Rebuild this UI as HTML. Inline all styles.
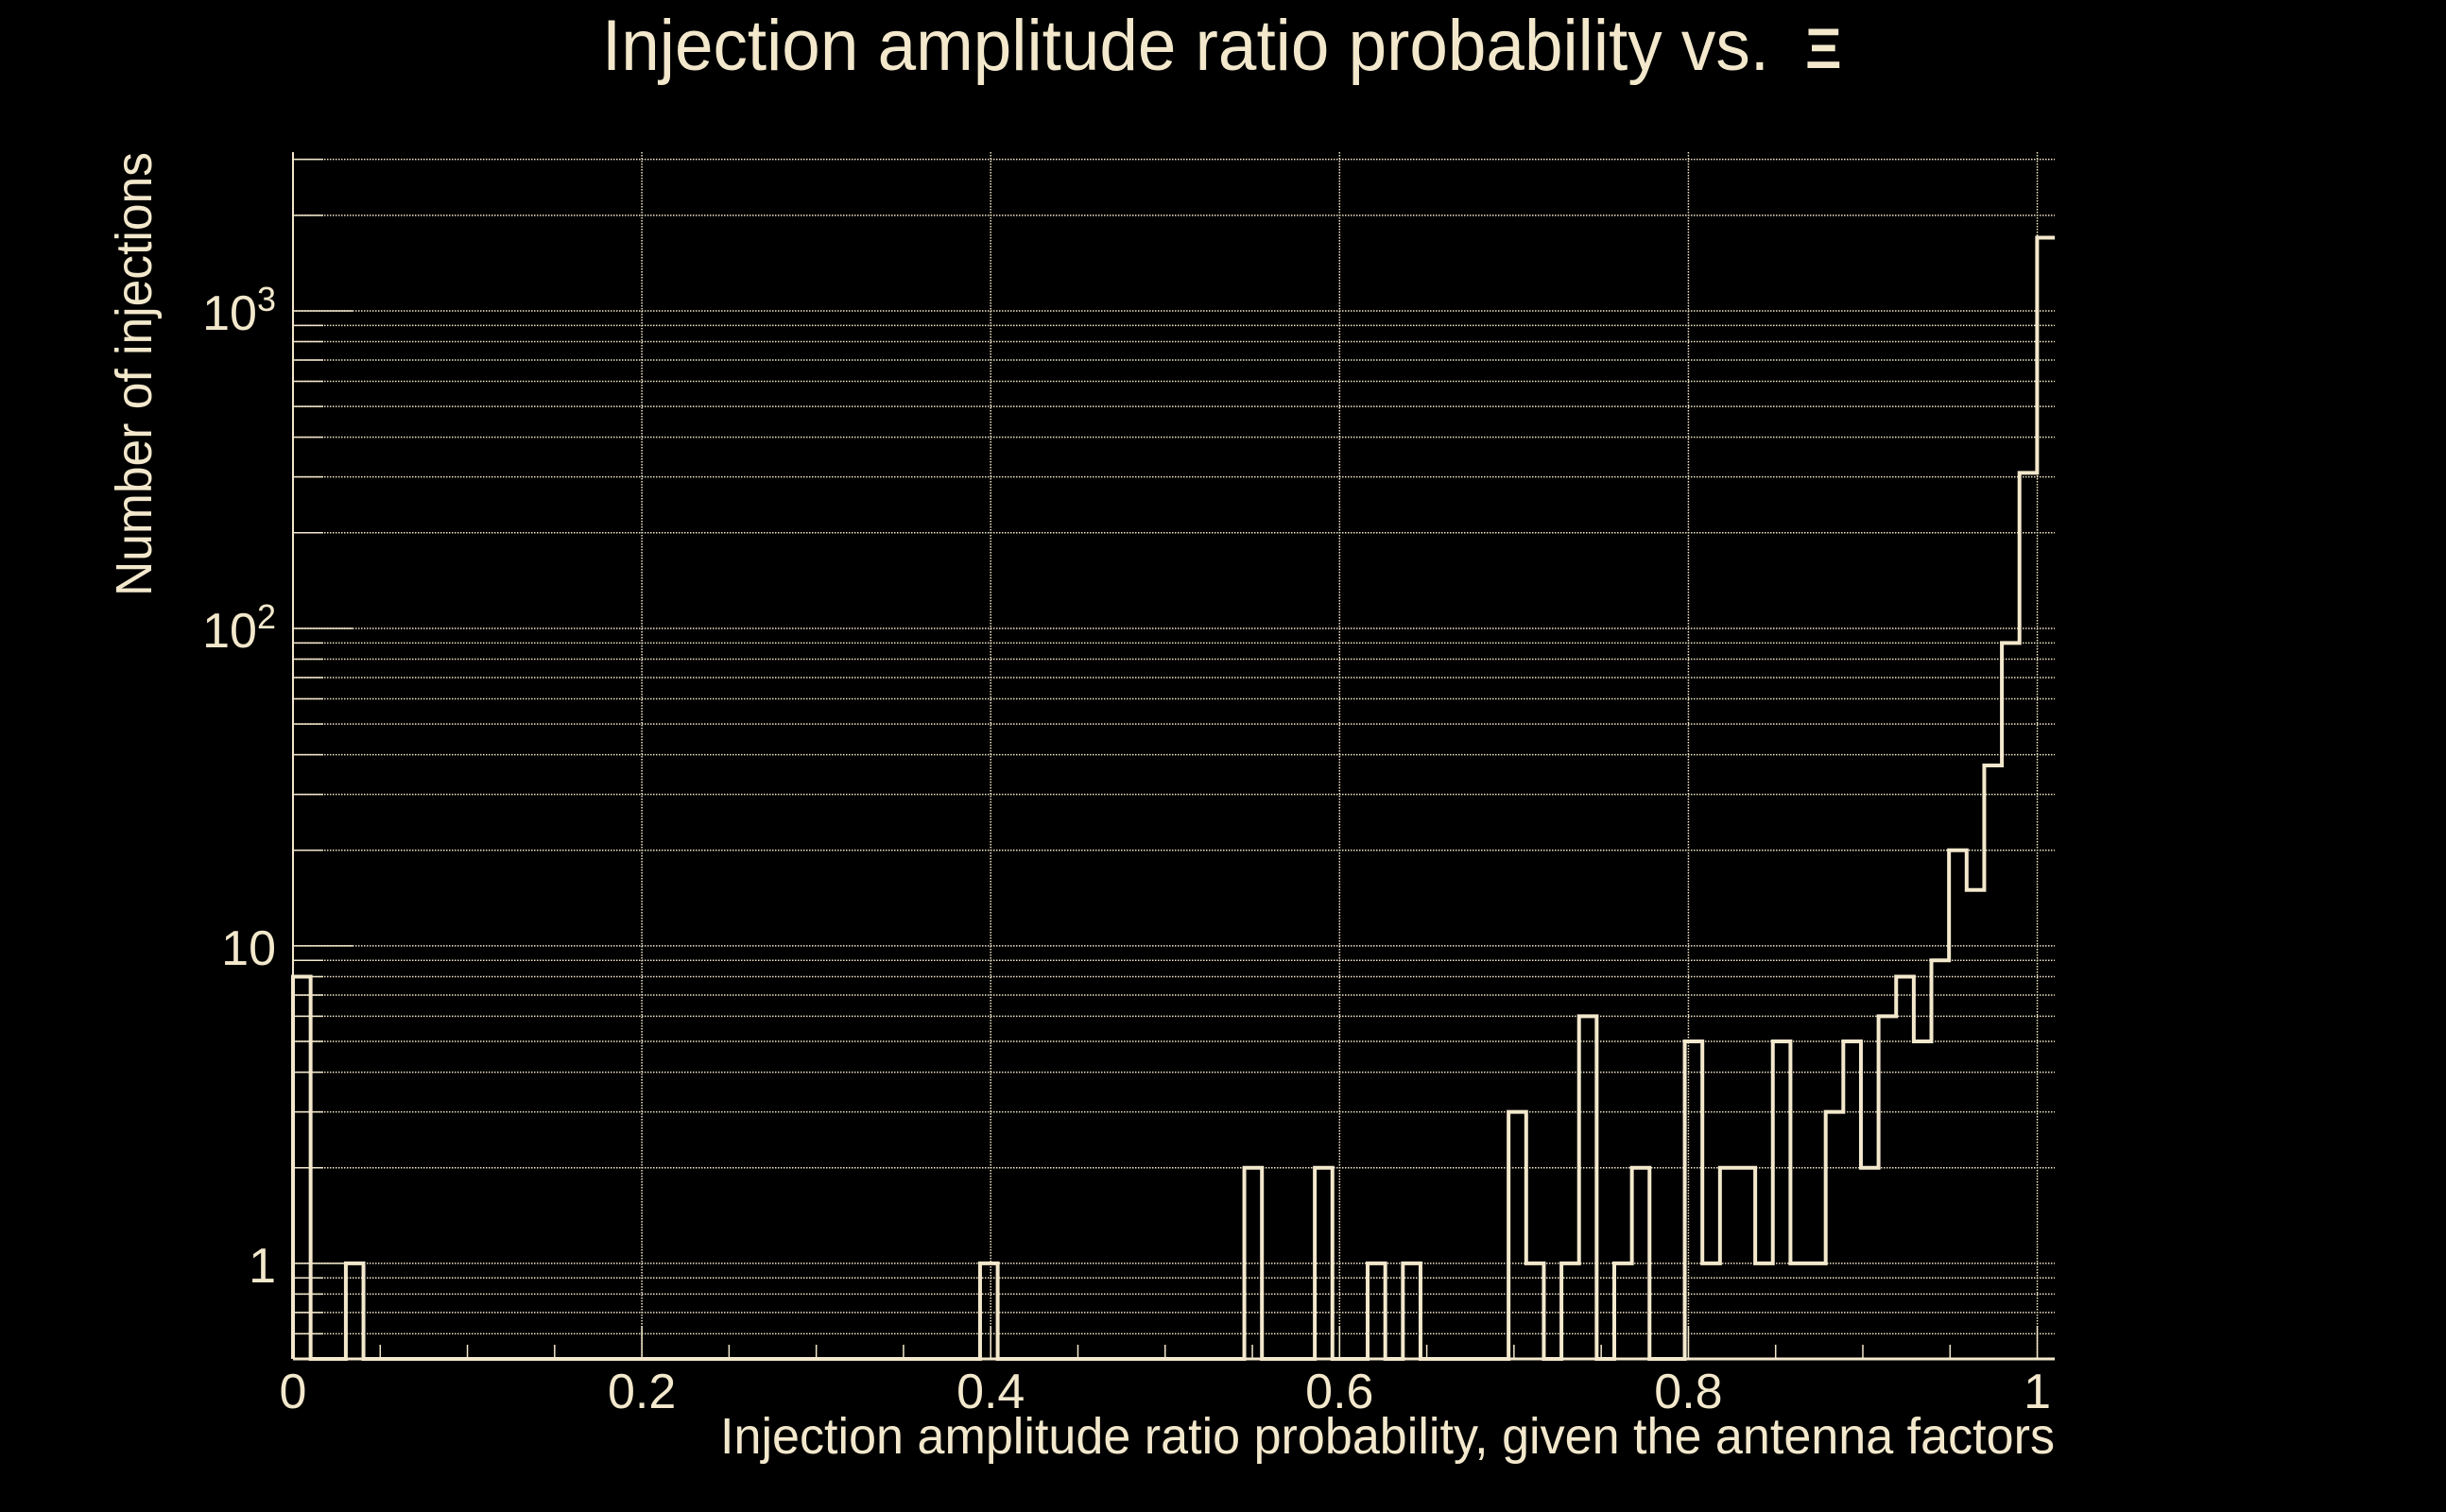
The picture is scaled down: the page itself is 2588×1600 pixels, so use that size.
<!DOCTYPE html>
<html><head><meta charset="utf-8"><style>
html,body{margin:0;padding:0;background:#000;}
svg{display:block;}
text{font-family:"Liberation Sans",sans-serif;fill:#f3e8cc;}
</style></head><body>
<svg id="chart" width="2588" height="1600" viewBox="0 0 2588 1600" xmlns="http://www.w3.org/2000/svg">
<rect width="2588" height="1600" fill="#000"/>
<text x="637" y="74" font-size="76" textLength="1235" lengthAdjust="spacingAndGlyphs">Injection amplitude ratio probability vs.</text>
<text x="1910" y="72" font-size="60" font-weight="bold" font-family="Liberation Serif,serif">Ξ</text>
<text x="2174" y="1538" font-size="54" text-anchor="end" textLength="1412" lengthAdjust="spacingAndGlyphs">Injection amplitude ratio probability, given the antenna factors</text>
<text transform="translate(160,396) rotate(-90)" font-size="54" text-anchor="middle" textLength="470" lengthAdjust="spacingAndGlyphs">Number of injections</text>
<g id="grid"></g>
<g id="axes"></g>
<g id="marks"></g>
</svg>
<script>
const binWidth = 0.0101;
const counts = [8,0,0,1,0,0,0,0,0,0, 0,0,0,0,0,0,0,0,0,0, 0,0,0,0,0,0,0,0,0,0, 0,0,0,0,0,0,0,0,0,1,
 0,0,0,0,0,0,0,0,0,0, 0,0,0,0,2,0,0,0,2,0, 0,1,0,1,0,0,0,0,0,3,
 1,0,1,6,0,1,2,0,0,5, 1,2,2,1,5,1,1,3,5,2, 6,8,5,9,20,15,37,90,309,1700];
const xTicks = [0,0.2,0.4,0.6,0.8,1];
const xTickLabels = ["0","0.2","0.4","0.6","0.8","1"];
const yMajor = [1,10,100,1000];
const yLabelBase = ["1","10","10","10"];
const yLabelExp = ["","","2","3"];

const C = "#f3e8cc";
const L=310,R=2174,T=161,B=1438;
const xmin=0,xmax=1.01,ymin=0.5,ymax=Math.pow(10,3.5);
const sx=v=>L+(v-xmin)/(xmax-xmin)*(R-L);
const sy=v=>B-(Math.log10(v)-Math.log10(ymin))/(Math.log10(ymax)-Math.log10(ymin))*(B-T);
const NS="http://www.w3.org/2000/svg";
function mk(tag,attrs,parent){const e=document.createElementNS(NS,tag);for(const k in attrs)e.setAttribute(k,attrs[k]);parent.appendChild(e);return e;}
const grid=document.getElementById('grid'),axes=document.getElementById('axes'),marks=document.getElementById('marks');

for(let d=-1;d<=3;d++){for(let m=1;m<=9;m++){const v=m*Math.pow(10,d);if(v<ymin||v>ymax)continue;const y=sy(v);
 const g=mk('line',{x1:L,x2:R,y1:y,y2:y,stroke:C,'stroke-width':1.5,'stroke-dasharray':'1.5 1.5'},grid);
 
 
 const t=mk('line',{x1:L,x2:L+(m===1?63:32),y1:y,y2:y,stroke:C,'stroke-width':1.5},axes);
 
 
}}
xTicks.forEach(v=>{const x=sx(v);
 const g=mk('line',{x1:x,x2:x,y1:T,y2:B,stroke:C,'stroke-width':1.5,'stroke-dasharray':'1.5 1.5'},grid);
 
 
});
for(let i=0;i<=20;i++){const v=i*0.05;const x=sx(v);const major=(i%4===0);
 const t=mk('line',{x1:x,x2:x,y1:B,y2:B-(major?35:15),stroke:C,'stroke-width':1.5},axes);
 
 
}
const ax=mk('line',{x1:L,x2:R,y1:B,y2:B,stroke:C,'stroke-width':3},axes);


const ay=mk('line',{x1:L,x2:L,y1:T,y2:B,stroke:C,'stroke-width':2},axes);


xTicks.forEach((v,i)=>{const t=mk('text',{x:sx(v),y:1490,'font-size':52,'text-anchor':'middle'},axes);t.textContent=xTickLabels[i];
 
 
});
yMajor.forEach((v,i)=>{const t=mk('text',{x:292,y:sy(v)+20,'font-size':52,'text-anchor':'end'},axes);
 const b=mk('tspan',{},t);b.textContent=yLabelBase[i];
 if(yLabelExp[i]){const e=mk('tspan',{'font-size':36,dy:-20},t);e.textContent=yLabelExp[i];}
 
 
});
let d="M"+sx(0)+","+B;
counts.forEach((c,i)=>{const y=c>0?sy(c):B;const x0=sx(i*binWidth),x1=sx((i+1)*binWidth);d+=" L"+x0+","+y+" L"+x1+","+y;});
d+=" L"+sx(counts.length*binWidth)+","+sy(counts[counts.length-1]);
const p=mk('path',{d:d,fill:'none',stroke:C,'stroke-width':4,'stroke-linejoin':'miter'},marks);


</script>
</body></html>
